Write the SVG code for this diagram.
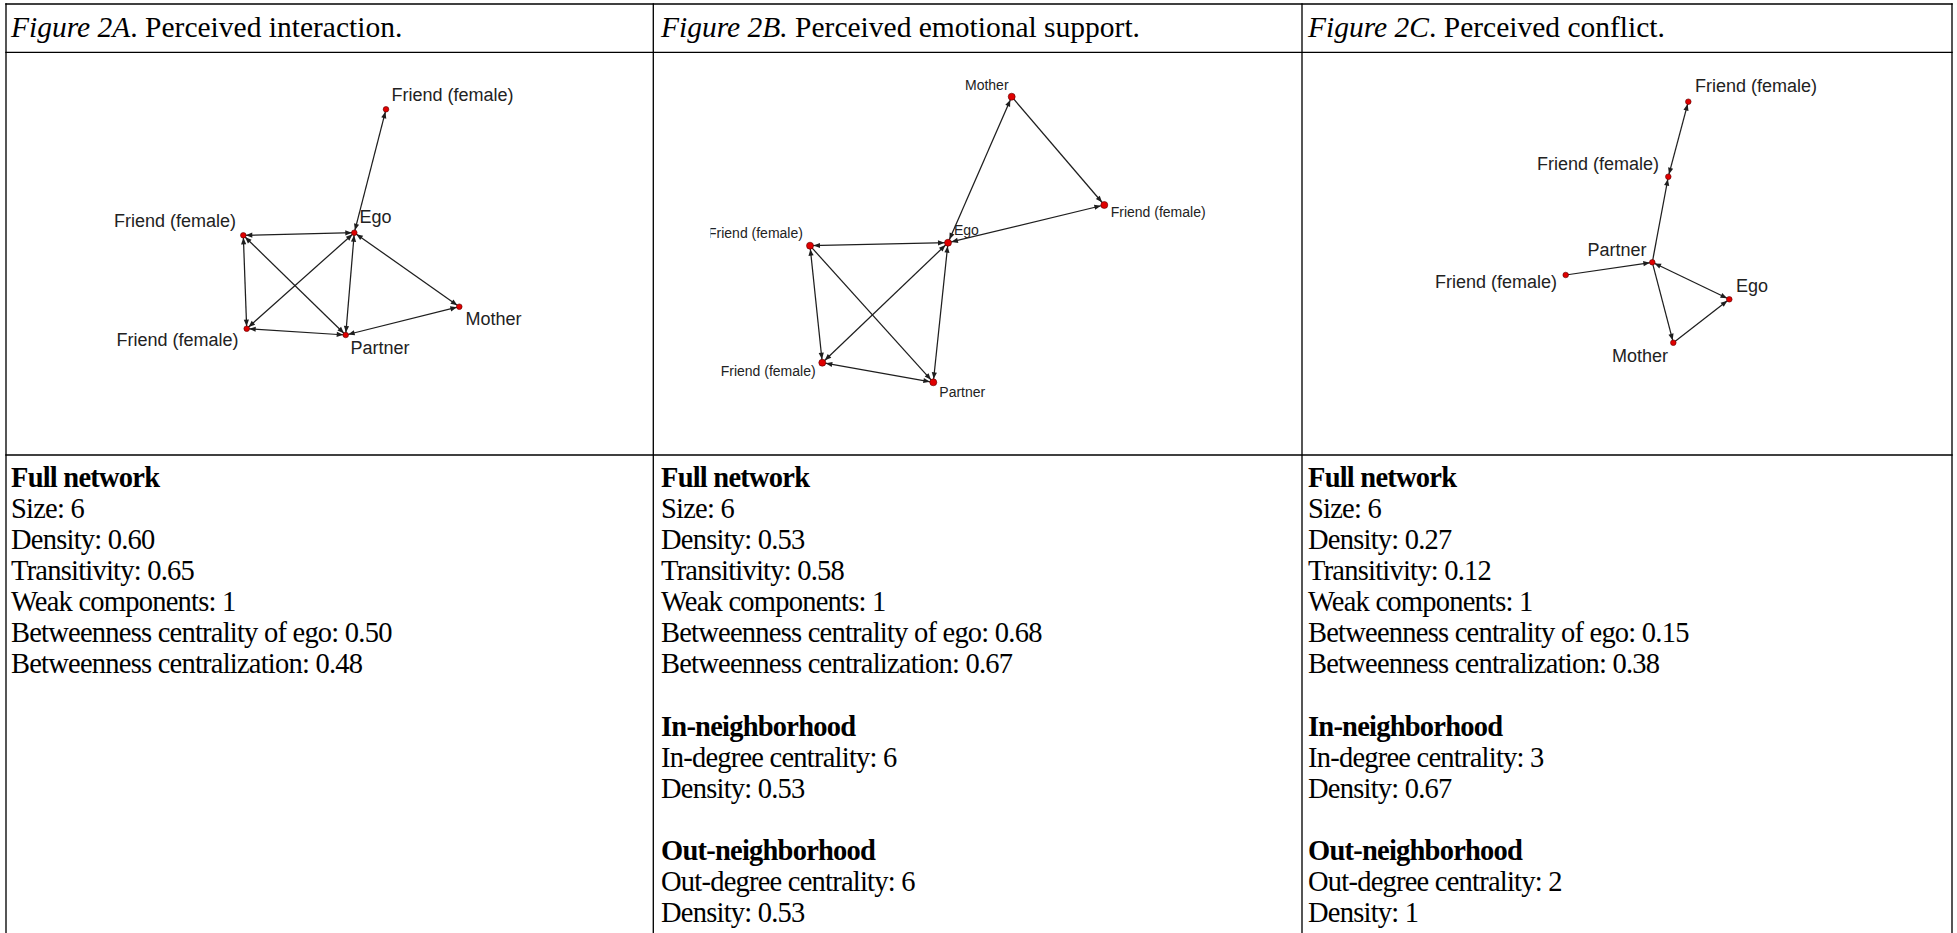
<svg xmlns="http://www.w3.org/2000/svg" width="1957" height="933" viewBox="0 0 1957 933">
<style>
.grid{stroke:#000;stroke-width:1.33;fill:none}
.hd{font-family:"Liberation Serif","Times New Roman",serif;font-size:29.5px;fill:#000}
.it{font-style:italic}
.tx{font-family:"Liberation Serif","Times New Roman",serif;font-size:28.5px;letter-spacing:-0.77px;fill:#000}
.b{font-weight:bold}
.lbl{font-family:"Liberation Sans",Arial,sans-serif;font-size:18px;fill:#222}
.lblB{font-family:"Liberation Sans",Arial,sans-serif;font-size:14px;fill:#222}
.e{stroke:#1e1e1e;stroke-width:1.25;fill:none}
.ea{marker-end:url(#ah)}
.eb{marker-start:url(#ah);marker-end:url(#ah)}
.eBa{marker-end:url(#ahB)}
.eBb{marker-start:url(#ahB);marker-end:url(#ahB)}
.n{fill:#e00000;stroke:#5a0000;stroke-width:0.6}
</style>
<defs>
<marker id="ah" markerUnits="userSpaceOnUse" markerWidth="12" markerHeight="12" refX="9" refY="0" orient="auto-start-reverse" style="overflow:visible">
<path d="M0,-2.6 L6.5,0 L0,2.6 Z" fill="#1e1e1e"/>
</marker>
<marker id="ahB" markerUnits="userSpaceOnUse" markerWidth="12" markerHeight="12" refX="10" refY="0" orient="auto-start-reverse" style="overflow:visible">
<path d="M0,-2.6 L6.5,0 L0,2.6 Z" fill="#1e1e1e"/>
</marker>
<clipPath id="clipB"><rect x="710.5" y="53" width="590" height="400"/></clipPath>
</defs>
<rect x="0" y="0" width="1957" height="933" fill="#fff"/>

<g id="table">
<line class="grid" x1="5.3" y1="4" x2="1952.7" y2="4"/>
<line class="grid" x1="5.3" y1="52.3" x2="1952.7" y2="52.3"/>
<line class="grid" x1="5.3" y1="455" x2="1952.7" y2="455"/>
<line class="grid" x1="6" y1="3.3" x2="6" y2="933"/>
<line class="grid" x1="653.3" y1="3.3" x2="653.3" y2="933"/>
<line class="grid" x1="1302" y1="3.3" x2="1302" y2="933"/>
<line class="grid" x1="1952" y1="3.3" x2="1952" y2="933"/>
</g>

<g id="headers">
<text class="hd" x="11" y="37"><tspan class="it">Figure 2A</tspan>. Perceived interaction.</text>
<text class="hd" x="661" y="37"><tspan class="it">Figure 2B.</tspan> Perceived emotional support.</text>
<text class="hd" x="1308" y="37"><tspan class="it">Figure 2C</tspan>. Perceived conflict.</text>
</g>

<g id="edges">
<g id="edges-a">
<line class="e eb" x1="354.3" y1="232.7" x2="386" y2="109.3"/>
<line class="e eb" x1="354.3" y1="232.7" x2="243.3" y2="235.3"/>
<line class="e eb" x1="354.3" y1="232.7" x2="246.7" y2="328.7"/>
<line class="e eb" x1="354.3" y1="232.7" x2="345.7" y2="335"/>
<line class="e eb" x1="354.3" y1="232.7" x2="459.3" y2="306.7"/>
<line class="e eb" x1="243.3" y1="235.3" x2="246.7" y2="328.7"/>
<line class="e eb" x1="243.3" y1="235.3" x2="345.7" y2="335"/>
<line class="e eb" x1="246.7" y1="328.7" x2="345.7" y2="335"/>
<line class="e eb" x1="345.7" y1="335" x2="459.3" y2="306.7"/>
</g>
<g id="edges-b" clip-path="url(#clipB)">
<line class="e eBb" x1="948" y1="242.7" x2="1011.7" y2="96.7"/>
<line class="e eBa" x1="1011.7" y1="96.7" x2="1104.3" y2="205"/>
<line class="e eBb" x1="948" y1="242.7" x2="1104.3" y2="205"/>
<line class="e eBb" x1="948" y1="242.7" x2="810" y2="245.7"/>
<line class="e eBb" x1="948" y1="242.7" x2="822.3" y2="362.7"/>
<line class="e eBb" x1="948" y1="242.7" x2="933.3" y2="382.3"/>
<line class="e eBb" x1="810" y1="245.7" x2="822.3" y2="362.7"/>
<line class="e eBa" x1="810" y1="245.7" x2="933.3" y2="382.3"/>
<line class="e eBb" x1="822.3" y1="362.7" x2="933.3" y2="382.3"/>
</g>
<g id="edges-c">
<line class="e eb" x1="1668.3" y1="176.7" x2="1688.3" y2="101.7"/>
<line class="e ea" x1="1652.3" y1="262.3" x2="1668.3" y2="176.7"/>
<line class="e ea" x1="1565.7" y1="275" x2="1652.3" y2="262.3"/>
<line class="e eb" x1="1652.3" y1="262.3" x2="1729.3" y2="299.3"/>
<line class="e ea" x1="1652.3" y1="262.3" x2="1673.3" y2="342.7"/>
<line class="e ea" x1="1673.3" y1="342.7" x2="1729.3" y2="299.3"/>
</g>
</g>

<g id="graph-a">
<g id="a-friend-top"><circle class="n" cx="386" cy="109.3" r="2.8"/><text class="lbl" x="391.5" y="100.7">Friend (female)</text></g>
<g id="a-ego"><circle class="n" cx="354.3" cy="232.7" r="2.8"/><text class="lbl" x="359.5" y="223.3">Ego</text></g>
<g id="a-friend-left"><circle class="n" cx="243.3" cy="235.3" r="2.8"/><text class="lbl" x="114" y="226.7">Friend (female)</text></g>
<g id="a-friend-bottom"><circle class="n" cx="246.7" cy="328.7" r="2.8"/><text class="lbl" x="116.5" y="345.7">Friend (female)</text></g>
<g id="a-partner"><circle class="n" cx="345.7" cy="335" r="2.8"/><text class="lbl" x="350.5" y="354">Partner</text></g>
<g id="a-mother"><circle class="n" cx="459.3" cy="306.7" r="2.8"/><text class="lbl" x="465.5" y="325">Mother</text></g>
</g>

<g id="graph-b" clip-path="url(#clipB)">
<g id="b-mother"><circle class="n" cx="1011.7" cy="96.7" r="3.5"/><text class="lblB" x="965" y="90">Mother</text></g>
<g id="b-friend-right"><circle class="n" cx="1104.3" cy="205" r="3.5"/><text class="lblB" x="1110.7" y="217.3">Friend (female)</text></g>
<g id="b-ego"><circle class="n" cx="948" cy="242.7" r="3.5"/><text class="lblB" x="954" y="235">Ego</text></g>
<g id="b-friend-left"><circle class="n" cx="810" cy="245.7" r="3.5"/><text class="lblB" x="708" y="238.3">Friend (female)</text></g>
<g id="b-friend-bottom"><circle class="n" cx="822.3" cy="362.7" r="3.5"/><text class="lblB" x="720.7" y="376">Friend (female)</text></g>
<g id="b-partner"><circle class="n" cx="933.3" cy="382.3" r="3.5"/><text class="lblB" x="939.3" y="397.3">Partner</text></g>
</g>

<g id="graph-c">
<g id="c-friend-top"><circle class="n" cx="1688.3" cy="101.7" r="2.8"/><text class="lbl" x="1695" y="91.7">Friend (female)</text></g>
<g id="c-friend-mid"><circle class="n" cx="1668.3" cy="176.7" r="2.8"/><text class="lbl" x="1537" y="170">Friend (female)</text></g>
<g id="c-partner"><circle class="n" cx="1652.3" cy="262.3" r="2.8"/><text class="lbl" x="1587.5" y="255.7">Partner</text></g>
<g id="c-friend-left"><circle class="n" cx="1565.7" cy="275" r="2.8"/><text class="lbl" x="1435" y="288.3">Friend (female)</text></g>
<g id="c-ego"><circle class="n" cx="1729.3" cy="299.3" r="2.8"/><text class="lbl" x="1736" y="291.7">Ego</text></g>
<g id="c-mother"><circle class="n" cx="1673.3" cy="342.7" r="2.8"/><text class="lbl" x="1612" y="361.7">Mother</text></g>
</g>

<g id="stats-a" class="tx">
<text x="11" y="486.7" class="b">Full network</text>
<text x="11" y="517.8">Size: 6</text>
<text x="11" y="548.9">Density: 0.60</text>
<text x="11" y="580">Transitivity: 0.65</text>
<text x="11" y="611.1">Weak components: 1</text>
<text x="11" y="642.2">Betweenness centrality of ego: 0.50</text>
<text x="11" y="673.3">Betweenness centralization: 0.48</text>
</g>
<g id="stats-b" class="tx">
<text x="661" y="486.7" class="b">Full network</text>
<text x="661" y="517.8">Size: 6</text>
<text x="661" y="548.9">Density: 0.53</text>
<text x="661" y="580">Transitivity: 0.58</text>
<text x="661" y="611.1">Weak components: 1</text>
<text x="661" y="642.2">Betweenness centrality of ego: 0.68</text>
<text x="661" y="673.3">Betweenness centralization: 0.67</text>
<text x="661" y="735.5" class="b">In-neighborhood</text>
<text x="661" y="766.6">In-degree centrality: 6</text>
<text x="661" y="797.7">Density: 0.53</text>
<text x="661" y="859.9" class="b">Out-neighborhood</text>
<text x="661" y="891">Out-degree centrality: 6</text>
<text x="661" y="922.1">Density: 0.53</text>
</g>
<g id="stats-c" class="tx">
<text x="1308" y="486.7" class="b">Full network</text>
<text x="1308" y="517.8">Size: 6</text>
<text x="1308" y="548.9">Density: 0.27</text>
<text x="1308" y="580">Transitivity: 0.12</text>
<text x="1308" y="611.1">Weak components: 1</text>
<text x="1308" y="642.2">Betweenness centrality of ego: 0.15</text>
<text x="1308" y="673.3">Betweenness centralization: 0.38</text>
<text x="1308" y="735.5" class="b">In-neighborhood</text>
<text x="1308" y="766.6">In-degree centrality: 3</text>
<text x="1308" y="797.7">Density: 0.67</text>
<text x="1308" y="859.9" class="b">Out-neighborhood</text>
<text x="1308" y="891">Out-degree centrality: 2</text>
<text x="1308" y="922.1">Density: 1</text>
</g>
</svg>
